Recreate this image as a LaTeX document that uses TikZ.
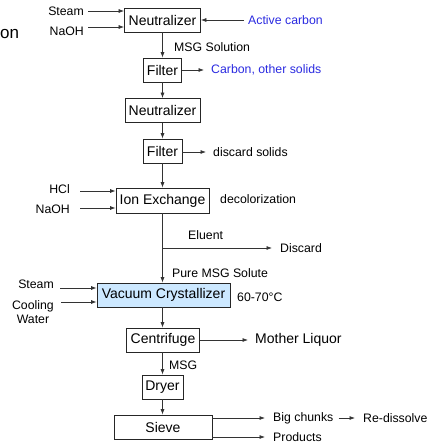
\documentclass[tikz,border=0pt]{standalone}
\usepackage{fontspec}
\setmainfont{Liberation Sans}
\usetikzlibrary{arrows.meta}
\definecolor{lblue}{HTML}{CCE8FF}
\definecolor{tblue}{HTML}{2A2AE0}
\begin{document}
\begin{tikzpicture}[x=1pt,y=1pt,
  box/.style={draw=black!85,line width=0.8pt,inner sep=0pt,minimum height=24pt,font=\fontsize{14}{16}\selectfont},
  lbl/.style={inner sep=0pt,font=\fontsize{12.3}{14}\selectfont},
  big/.style={inner sep=0pt,font=\fontsize{14}{16}\selectfont},
  arr/.style={draw=black!80,line width=0.7pt,-{Latex[length=5.5pt,width=4pt]}}]
\useasboundingbox (0,0) rectangle (436,-444);
% left fragment
\node[inner sep=0pt,anchor=west,font=\fontsize{17}{19}\selectfont] (frag) at (0,-34) {on};
% boxes
\node[box,minimum width=76pt] (n1) at (162.5,-20) {Neutralizer};
\node[box,minimum width=38.5pt] (f1) at (162.5,-70) {Filter};
\node[box,minimum width=75pt] (n2) at (162.5,-110.5) {Neutralizer};
\node[box,minimum width=39pt] (f2) at (162.5,-151) {Filter};
\node[box,minimum width=93pt,minimum height=25pt] (ix) at (162.5,-200.5) {Ion Exchange};
\node[box,minimum width=133pt,fill=lblue] (vc) at (163.5,-295) {Vacuum Crystallizer};
\node[box,minimum width=73pt] (cf) at (163,-340) {Centrifuge};
\node[box,minimum width=41pt] (dr) at (162.5,-387) {Dryer};
\node[box,minimum width=98pt] (sv) at (163,-427) {Sieve};
% main flow
\draw[arr] (n1) -- (f1);
\draw[arr] (f1) -- (n2);
\draw[arr] (n2) -- (f2);
\draw[arr] (f2) -- (ix);
\draw[arr] (ix.south -| f2.south) -- (vc.north -| f2.south);
\draw[arr] (vc.south -| f2.south) -- (cf.north -| f2.south);
\draw[arr] (cf.south -| f2.south) -- (dr);
\draw[arr] (dr) -- (sv.north -| dr.south);
% labels on flow
\node[lbl,anchor=west] (msgsol) at (174,-47) {MSG Solution};
\node[lbl,anchor=west] (eluent) at (188,-235) {Eluent};
\node[lbl,anchor=west] (pure) at (172,-273) {Pure MSG Solute};
\node[lbl,anchor=west] (msg) at (169,-365) {MSG};
% inputs
\node[lbl,anchor=east] (st1) at (84,-11) {Steam};
\node[lbl,anchor=east] (na1) at (84,-31) {NaOH};
\draw[arr] ([xshift=4pt]st1.east) -- (n1.west |- st1.east);
\draw[arr] ([xshift=4pt,yshift=4pt]na1.east) -- (n1.west |- 0,-27);
\node[lbl,anchor=west,text=tblue] (ac) at (248,-20) {Active carbon};
\draw[arr] ([xshift=-4pt]ac.west) -- (n1.east);
\node[lbl,anchor=west,text=tblue] (cos) at (211,-70) {Carbon, other solids};
\draw[arr] (f1.east) -- ([xshift=-7pt]cos.west);
\node[lbl,anchor=west] (ds) at (213,-152) {discard solids};
\draw[arr] (f2.east |- ds.west) -- ([xshift=-7pt]ds.west);
\node[lbl,anchor=east] (hcl) at (70,-189) {HCl};
\node[lbl,anchor=east] (na2) at (70,-209) {NaOH};
\draw[arr] ([xshift=10pt,yshift=-2pt]hcl.east) -- (ix.west |- 0,-191);
\draw[arr] ([xshift=10pt,yshift=1pt]na2.east) -- (ix.west |- 0,-208);
\node[lbl,anchor=west] (dec) at (220,-199) {decolorization};
\coordinate (br) at (162.5,-248);
\node[lbl,anchor=west] (disc) at (280,-248) {Discard};
\draw[arr] (br) -- ([xshift=-8pt]disc.west);
% crystallizer
\node[lbl,anchor=east] (st2) at (54,-284) {Steam};
\node[lbl,anchor=east,align=center] (cw) at (54,-312) {Cooling\\Water};
\draw[arr] ([xshift=6pt,yshift=-4pt]st2.east) -- (vc.west |- 0,-288);
\draw[arr] (61,-302) -- (vc.west |- 0,-302);
\node[lbl,anchor=west] (temp) at (237,-297) {60-70°C};
\node[big,anchor=west] (ml) at (255,-340) {Mother Liquor};
\draw[arr] (cf.east) -- ([xshift=-7pt]ml.west);
% sieve outputs
\node[lbl,anchor=west] (bc) at (273,-418) {Big chunks};
\node[lbl,anchor=west] (rd) at (363,-418) {Re-dissolve};
\node[lbl,anchor=west] (pr) at (273,-437) {Products};
\draw[arr] (sv.east |- bc.west) -- ([xshift=-8pt]bc.west);
\draw[arr] (sv.east |- pr.west) -- ([xshift=-8pt]pr.west);
\draw[arr] ([xshift=5pt]bc.east) -- ([xshift=-8pt]rd.west);
\end{tikzpicture}
\end{document}
